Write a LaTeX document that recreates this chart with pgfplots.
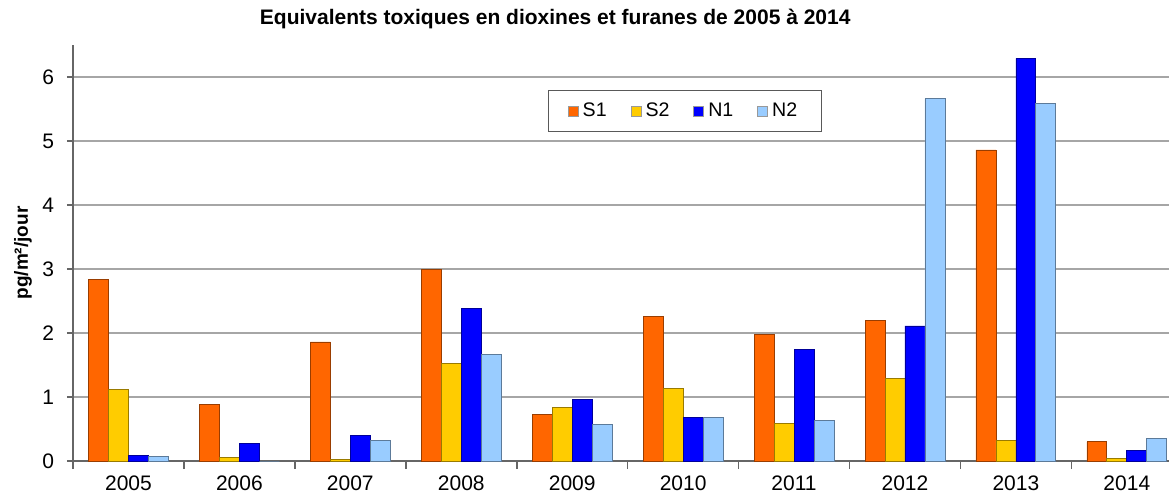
\documentclass[border=0pt]{standalone}
\usepackage{fontspec}
\setmainfont{Liberation Sans}
\usepackage{pgfplots}
\pgfplotsset{compat=1.18}
\definecolor{cS1}{HTML}{FF6600}
\definecolor{cS2}{HTML}{FFCC00}
\definecolor{cN1}{HTML}{0000FF}
\definecolor{cN2}{HTML}{99CCFF}
\begin{document}
\begin{tikzpicture}
\useasboundingbox (-36.5pt,-17pt) rectangle (548pt,230.5pt);
\begin{axis}[
  scale only axis,
  width=548pt, height=208pt,
  xmin=-0.5, xmax=9.38,
  ymin=0, ymax=6.5,
  ybar=0pt, bar width=0.18,
  axis x line*=bottom, axis y line*=left,
  xtick={0,...,9},
  xticklabels={2005,2006,2007,2008,2009,2010,2011,2012,2013,2014},
  minor xtick={-0.5,0.5,...,8.5},
  xtick style={draw=none},
  minor x tick style={draw=gray!80!black, thick},
  minor tick length=4pt,
  ytick={0,1,...,6},
  major tick length=3pt,
  ytick style={draw=gray!80!black, thick},
  tick align=outside,
  ymajorgrids, grid style={gray!70, thick},
  axis line style={gray!80!black, thick},
  tick label style={font=\fontsize{10.5}{12}\selectfont},
  yticklabel style={xshift=-3pt},
  xticklabel style={yshift=-1pt},
  /pgf/number format/assume math mode=true,
  title={\bfseries Equivalents toxiques en dioxines et furanes de 2005 à 2014},
  title style={at={(0.44,1)}, anchor=center, yshift=7pt, font=\fontsize{10.5}{12}\selectfont},
  ylabel={\bfseries pg/m²/jour},
  ylabel style={at={(axis description cs:-0.0456,0.5)}, anchor=center, font=\fontsize{9.5}{11}\selectfont},
  legend columns=4,
  legend style={at={(0.558,0.841)}, anchor=center, draw=gray!70!black, font=\fontsize{9.8}{12}\selectfont,
    /tikz/every even column/.append style={column sep=10pt}, inner xsep=10pt, inner ysep=4pt},
  legend image code/.code={\draw[#1, draw=black!40] (0pt,-2.5pt) rectangle (5pt,2.5pt);},
]
\addplot[fill=cS1, draw=cS1!60!black] coordinates {(0,2.84) (1,0.89) (2,1.86) (3,3.0) (4,0.73) (5,2.26) (6,1.98) (7,2.19) (8,4.86) (9,0.30)};
\addplot[fill=cS2, draw=cS2!60!black] coordinates {(0,1.12) (1,0.06) (2,0.03) (3,1.53) (4,0.84) (5,1.13) (6,0.58) (7,1.29) (8,0.32) (9,0.04)};
\addplot[fill=cN1, draw=cN1!60!black] coordinates {(0,0.08) (1,0.28) (2,0.40) (3,2.38) (4,0.96) (5,0.68) (6,1.74) (7,2.11) (8,6.29) (9,0.16)};
\addplot[fill=cN2, draw=cN2!60!black] coordinates {(0,0.07) (1,0) (2,0.32) (3,1.67) (4,0.57) (5,0.68) (6,0.63) (7,5.66) (8,5.59) (9,0.35)};
\legend{S1,S2,N1,N2}
\end{axis}
\end{tikzpicture}
\end{document}
